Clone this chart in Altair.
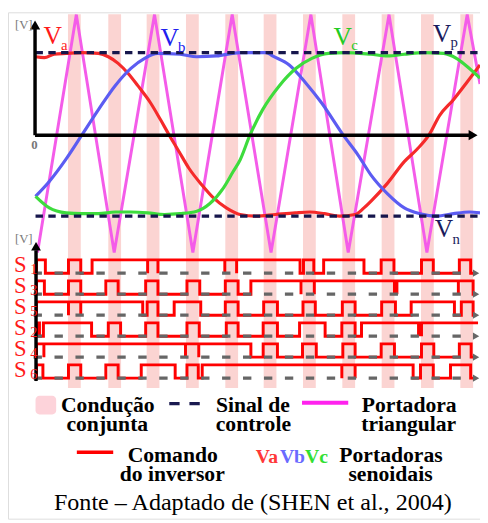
import altair as alt
import pandas as pd

# ---------------- data ----------------
# time axis in arbitrary units (origin at the vertical axis), voltage in units of Vp
va_t = [0, 9, 19, 31, 47, 64, 74, 84, 94, 104, 117, 127, 136, 146, 156, 169, 181, 194, 208, 224,
        244, 264, 279, 294, 309, 325, 334, 341, 358, 375, 388, 400, 411, 425, 438, 452]
va_v = [0.95, 0.94, 0.98, 0.99, 1.00, 0.99, 0.95, 0.87, 0.75, 0.60, 0.39, 0.19, 0.00, -0.20, -0.40,
        -0.60, -0.76, -0.88, -0.96, -0.98, -0.96, -0.94, -0.93, -0.95, -0.98, -0.96, -0.88, -0.80,
        -0.58, -0.32, -0.17, 0.00, 0.24, 0.43, 0.63, 0.85]

vb_t = [0, 14, 31, 47, 64, 81, 97, 111, 124, 147, 164, 184, 208, 235, 241, 258, 275, 291, 313,
        328, 341, 358, 375, 391, 408, 425, 441, 452]
vb_v = [-0.74, -0.56, -0.29, 0.00, 0.31, 0.60, 0.81, 0.93, 0.99, 0.98, 0.95, 0.96, 1.00, 1.00,
        0.96, 0.85, 0.63, 0.39, 0.00, -0.24, -0.48, -0.71, -0.88, -0.95, -0.98, -0.95, -0.93, -0.94]

vc_t = [0, 14, 31, 47, 64, 81, 97, 114, 131, 147, 164, 177, 191, 201, 208, 218, 231, 248, 265,
        281, 298, 315, 341, 358, 375, 395, 415, 428, 441, 452]
vc_v = [-0.74, -0.88, -0.94, -0.95, -0.95, -0.93, -0.93, -0.94, -0.96, -0.95, -0.92, -0.83, -0.64,
        -0.44, -0.30, 0.00, 0.31, 0.60, 0.81, 0.93, 0.99, 1.00, 0.98, 0.96, 0.98, 1.00, 0.99, 0.93,
        0.81, 0.69]

carrier_t = [2, 41.5, 80, 121, 160, 200, 239.5, 280, 318, 359.5, 398, 439, 452]
carrier_v = [-1.42, 1.46, -1.42, 1.46, -1.42, 1.46, -1.42, 1.46, -1.42, 1.46, -1.42, 1.46, 0.62]

vp_level = 1.00
vn_level = -0.98

stripe_start = [33, 74, 113, 153, 193, 232, 272, 312, 352, 392, 432]
stripe_end = [46, 87, 126, 166, 206, 245, 285, 325, 365, 405, 445]

row_names = ["S1", "S3", "S5", "S2", "S4", "S6"]
s1_on = [1, 33.5, 57.5, 114, 124.5, 192.5, 204.5, 272.5, 293, 351.5, 392.5, 431]
s1_off = [10, 46, 114, 124.5, 192.5, 204.5, 269, 283, 334, 364.5, 404.5, 442.5]
s3_on = [1, 33.5, 71.5, 112, 154, 193, 219, 270, 283.5, 365, 367.5, 430]
s3_off = [9, 46, 84, 124.5, 167, 206, 270, 283.5, 365, 367.5, 430, 445]
s5_on = [1, 33.5, 46, 113.5, 141, 193, 232, 272, 312, 352, 382, 433]
s5_off = [33.5, 46, 109, 124.5, 168, 206, 246, 284.5, 325, 366, 426, 445]
s2_on = [1, 8, 74, 112, 154, 194, 231.5, 268.5, 311.5, 331.5, 389.5, 392.5]
s2_off = [4, 57, 86.5, 124.5, 166.5, 206, 246, 294.5, 325, 389.5, 392.5, 450]
s4_on = [1, 8.5, 152.5, 166, 231.5, 271.5, 312.5, 351.5, 392.5, 431]
s4_off = [8.5, 152.5, 166, 219, 246, 285.5, 325, 365, 405, 443]
s6_on = [1, 33.5, 71.5, 107.5, 154, 169.5, 311.5, 325, 391.5, 422]
s6_off = [7.5, 46, 84, 142, 165.5, 311.5, 325, 384, 404.5, 442.5]
rows_on = [s1_on, s3_on, s5_on, s2_on, s4_on, s6_on]
rows_off = [s1_off, s3_off, s5_off, s2_off, s4_off, s6_off]

# ---------------- layout ----------------
W, H = 480, 515
T_MIN, T_MAX = -28, 452          # time domain across the chart width
ZERO_PX, PX_PER_V = 125, 84      # chart-pixel row of v=0 and pixels per volt unit
V_MAX = ZERO_PX / PX_PER_V
V_MIN = (ZERO_PX - H) / PX_PER_V
LANE0_PX, LANE_STEP_PX, LANE_HI_PX = 265.3, 21.35, 13.5
T_END = 447

xs = alt.Scale(domain=[T_MIN, T_MAX], nice=False, zero=False)
ys = alt.Scale(domain=[V_MIN, V_MAX], nice=False, zero=False)
X = lambda f: alt.X(f, scale=xs, axis=None)
Y = lambda f: alt.Y(f, scale=ys, axis=None)


def px_to_v(py):
    return (ZERO_PX - py) / PX_PER_V


def P(v):
    return v - 8


# ---------------- tables ----------------
sines = pd.concat([
    pd.DataFrame({"t": va_t, "v": va_v, "s": "Va"}),
    pd.DataFrame({"t": vb_t, "v": vb_v, "s": "Vb"}),
    pd.DataFrame({"t": vc_t, "v": vc_v, "s": "Vc"}),
])
carrier = pd.DataFrame({"t": carrier_t, "v": carrier_v})
stripes = pd.DataFrame({"a": stripe_start, "b": stripe_end})
levels = pd.DataFrame({"t": [0, 0], "t2": [T_END + 5, T_END + 5], "v": [vp_level, vn_level]})

recs = []
for k, name in enumerate(row_names):
    base = px_to_v(LANE0_PX + k * LANE_STEP_PX)
    hi = px_to_v(LANE0_PX + k * LANE_STEP_PX - LANE_HI_PX)
    pts = [(1, base)]
    ends_high = False
    for s, e in zip(rows_on[k], rows_off[k]):
        pts += [(s, base), (s, hi), (e, hi)]
        if e >= T_END:
            ends_high = True
        else:
            pts.append((e, base))
    if not ends_high:
        pts.append((T_END, base))
    for i, (t, v) in enumerate(pts):
        recs.append({"row": name, "o": i, "t": t, "v": v})
traces = pd.DataFrame(recs)
baselines = pd.DataFrame({
    "row": row_names,
    "t": [-2] * 6,
    "t2": [T_END - 3] * 6,
    "v": [px_to_v(LANE0_PX + k * LANE_STEP_PX) for k in range(6)],
})

one = alt.Data(values=[{}])

# ---------------- layers ----------------
layers = []
layers.append(alt.Chart(stripes).mark_rect(color="#fbd4d2").encode(
    x=X("a:Q"), x2="b:Q", y=alt.value(P(10)), y2=alt.value(P(390))))

layers.append(alt.Chart(carrier).mark_line(color="#f45ce9", strokeWidth=3).encode(
    x=X("t:Q"), y=Y("v:Q")))

layers.append(alt.Chart(sines).mark_line(strokeWidth=3.2, interpolate="monotone").encode(
    x=X("t:Q"), y=Y("v:Q"),
    color=alt.Color("s:N", scale=alt.Scale(domain=["Va", "Vb", "Vc"],
                                            range=["#f52a2a", "#5c5cf2", "#3ddc3d"]), legend=None),
    detail="s:N"))

layers.append(alt.Chart(levels).mark_rule(color="#16164c", strokeWidth=3.3, strokeDash=[7.5, 5.5]).encode(
    x=X("t:Q"), x2="t2:Q", y=Y("v:Q")))

# lower panel: command signals
layers.append(alt.Chart(traces).mark_line(color="#ff0000", strokeWidth=3, strokeJoin="miter").encode(
    x=X("t:Q"), y=Y("v:Q"), order="o:Q", detail="row:N"))
layers.append(alt.Chart(baselines).mark_rule(color="#666666", strokeWidth=3.3, strokeDash=[8.5, 12.8]).encode(
    x=X("t:Q"), x2="t2:Q", y=Y("v:Q")))
layers.append(alt.Chart(baselines).mark_point(shape="triangle-right", filled=True, size=55,
                                              color="#666666", opacity=1).encode(
    x=alt.value(P(484)), y=Y("v:Q")))


def rule(x1, y1, x2, y2, color="black", width=3.5, dash=None):
    kw = dict(color=color, strokeWidth=width)
    if dash:
        kw["strokeDash"] = dash
    return alt.Chart(one).mark_rule(**kw).encode(
        x=alt.value(P(x1)), x2=alt.value(P(x2)), y=alt.value(P(y1)), y2=alt.value(P(y2)))


def arrow(x, y, shape, size, color="black"):
    return alt.Chart(one).mark_point(shape=shape, filled=True, size=size, color=color, opacity=1).encode(
        x=alt.value(P(x)), y=alt.value(P(y)))


def label(text, x, y, size, color="black", font="Liberation Serif", align="left", weight="normal"):
    return alt.Chart(one).mark_text(text=text, font=font, fontSize=size, color=color, align=align,
                                    baseline="alphabetic", fontWeight=weight).encode(
        x=alt.value(P(x)), y=alt.value(P(y)))


# axes
layers += [
    rule(35.5, 133, 35.5, 22), arrow(35.5, 21, "triangle-up", 110),
    rule(35.5, 133, 478, 133), arrow(481, 133, "triangle-right", 110),
    rule(36.5, 383, 36.5, 250), arrow(36.5, 246, "triangle-up", 100),
]

# panel labels
NAVY = "#1a1a5c"
layers += [
    label("[V]", 15, 25, 13, "#7a7a7a"),
    label("[V]", 15, 243, 13, "#7a7a7a"),
    label("0", 35, 147, 13, "#777777", align="center", weight="bold"),
    label("V", 44, 40, 26, "#ff1a1a"), label("a", 62, 46, 15, "#ff1a1a"),
    label("V", 163, 42, 26, "#2020ee"), label("b", 181, 48, 15, "#2020ee"),
    label("V", 339, 41, 26, "#22cc22"), label("c", 357, 46, 15, "#22cc22"),
    label("V", 440, 38, 26, NAVY), label("p", 458, 43, 15, NAVY),
    label("V", 442, 237, 26, NAVY), label("n", 460, 244, 15, NAVY),
]
for k, name in enumerate(row_names):
    by = LANE0_PX + 8 + k * LANE_STEP_PX
    layers.append(label("S", 14, by - 1, 23, "#ff1a1a"))
    layers.append(label(name[1], 30.5, by + 1, 14.5, "#ff1a1a"))

# legend
LF = "Liberation Serif"
LS = 22
LW = "bold"
layers += [
    alt.Chart(one).mark_rect(color="#fdd3da", cornerRadius=4).encode(
        x=alt.value(P(36)), x2=alt.value(P(57)), y=alt.value(P(398)), y2=alt.value(P(417))),
    label("Condução", 109.5, 414, LS, font=LF, align="center", weight=LW),
    label("conjunta", 109, 434, LS, font=LF, align="center", weight=LW),
    rule(172, 406, 203, 406, color="#1a1a50", width=3.3, dash=[10.5, 10]),
    label("Sinal de", 257, 414, LS, font=LF, align="center", weight=LW),
    label("controle", 257.5, 434, LS, font=LF, align="center", weight=LW),
    rule(307, 405, 354, 405, color="#ff22ee", width=4),
    label("Portadora", 416, 414, LS, font=LF, align="center", weight=LW),
    label("triangular", 415.5, 434, LS, font=LF, align="center", weight=LW),
    rule(78, 455.5, 115, 455.5, color="#ff0000", width=3.5),
    label("Comando", 175.5, 465, LS, font=LF, align="center", weight=LW),
    label("do inversor", 175, 485, LS, font=LF, align="center", weight=LW),
    label("Va", 260, 466, 20, "#ff3838", font=LF, weight=LW),
    label("Vb", 284.5, 466, 20, "#6a6aff", font=LF, weight=LW),
    label("Vc", 310, 466, 20, "#33e033", font=LF, weight=LW),
    label("Portadoras", 397.5, 465, LS, font=LF, align="center", weight=LW),
    label("senoidais", 397, 485, LS, font=LF, align="center", weight=LW),
    label("Fonte – Adaptado de (SHEN et al., 2004)", 257, 514, 24.5, align="center"),
]

chart = alt.layer(*layers).properties(
    width=W, height=H, padding=0, autosize=alt.AutoSizeParams(type="none")
).configure_view(stroke=None).configure(background="white")

chart.save("out.html", embed_options={"renderer": "svg", "actions": False})
